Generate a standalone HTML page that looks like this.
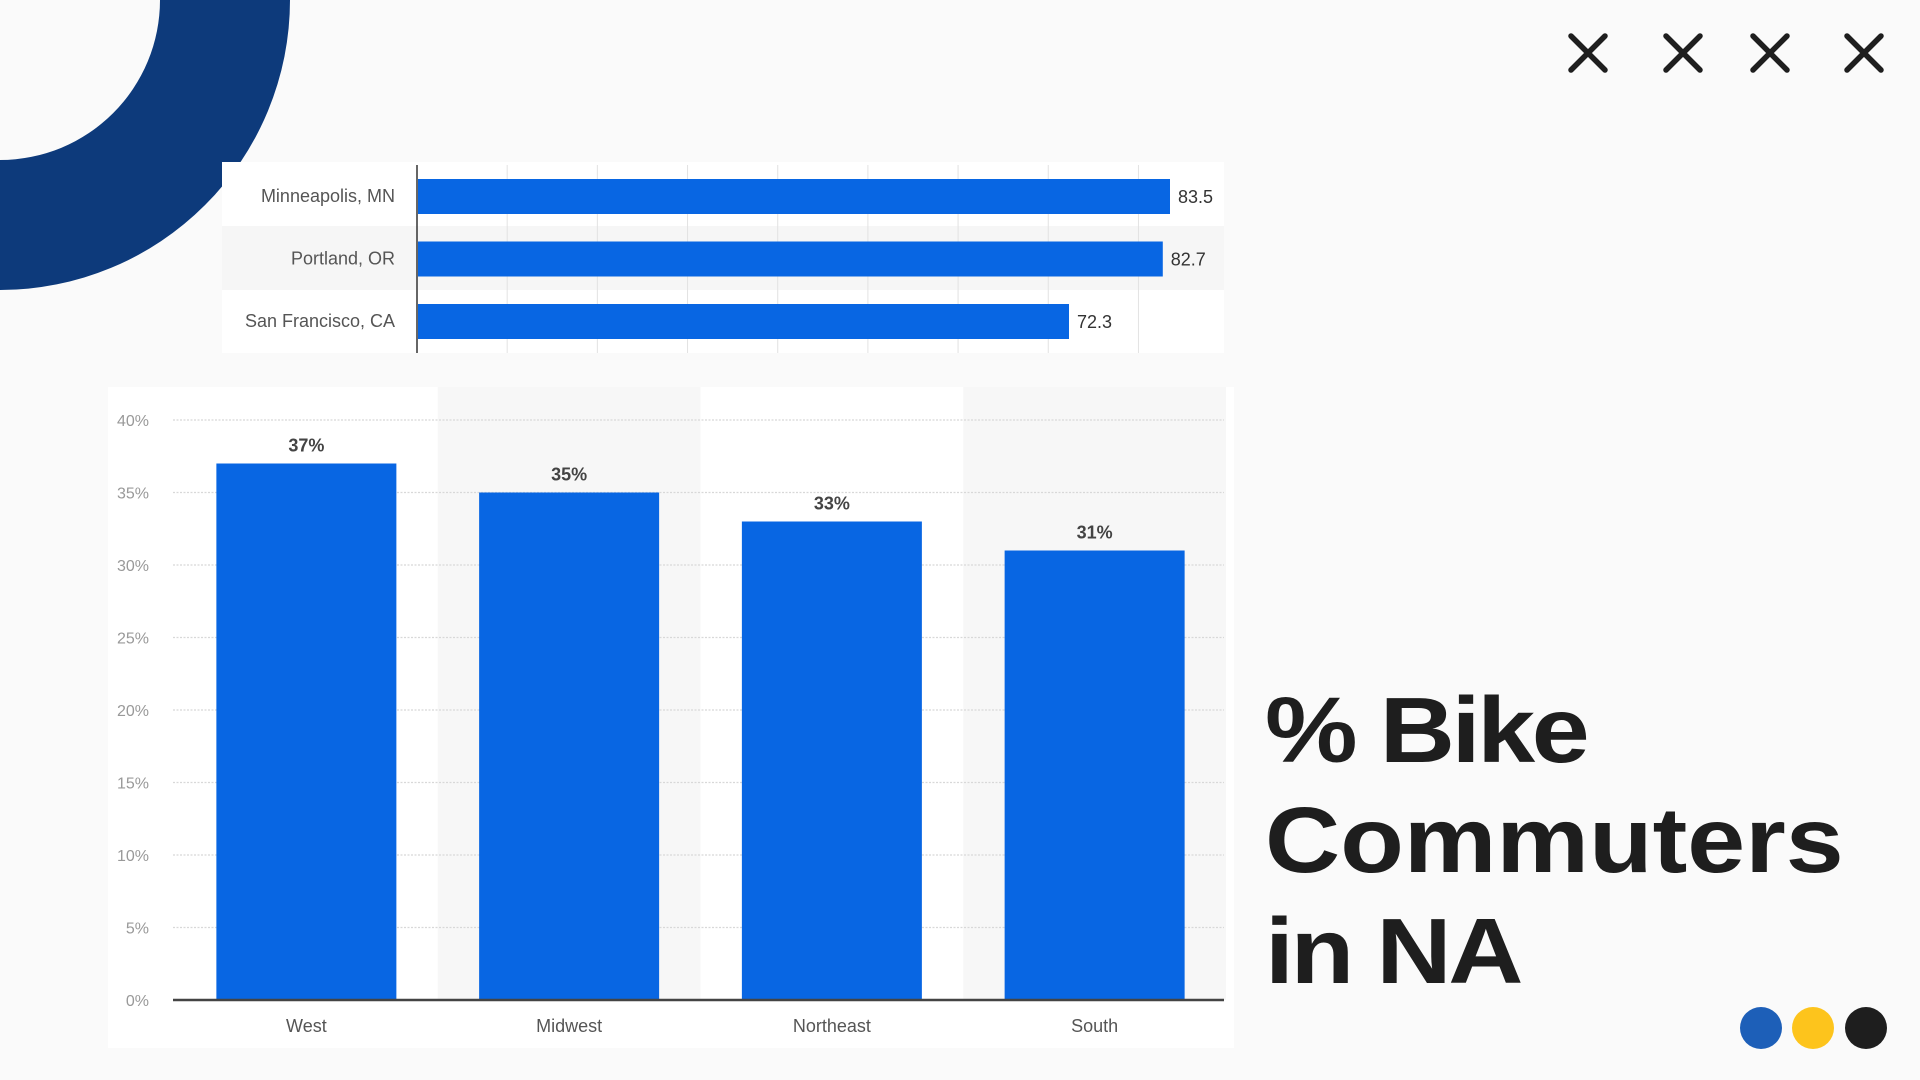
<!DOCTYPE html>
<html><head><meta charset="utf-8"><style>
html,body{margin:0;padding:0;background:#fafafa;}
body{width:1920px;height:1080px;overflow:hidden;position:relative;font-family:"Liberation Sans",sans-serif;}
svg{position:absolute;left:0;top:0;}
</style></head><body>
<svg width="1920" height="1080" viewBox="0 0 1920 1080">
  <path d="M0,0 L290,0 A290,290 0 0 1 0,290 L0,160 A160,160 0 0 0 160,0 Z" fill="#0d3a7b"/>
  <g id="xs" stroke="#1e1e1e" stroke-width="5.5" stroke-linecap="round"></g>
  <g>
    <circle cx="1761" cy="1028" r="21" fill="#1d5fb8"/>
    <circle cx="1813" cy="1028" r="21" fill="#fdc41c"/>
    <circle cx="1866" cy="1028" r="21" fill="#1e1e1e"/>
  </g>
  <g font-family="Liberation Sans, sans-serif" font-weight="bold" font-size="93" fill="#1e1e1e" transform="translate(1265,0) scale(1.12,1)" letter-spacing="-1">
    <text x="0" y="762" letter-spacing="-3">% Bike</text>
    <text x="0" y="872" letter-spacing="0">Commuters</text>
    <text x="0" y="983" letter-spacing="-3">in NA</text>
  </g>
  <g id="topChart"></g>
  <g id="botChart"></g>
</svg>
<script>
const NS='http://www.w3.org/2000/svg';
function mk(p,t,a){const e=document.createElementNS(NS,t);for(const k in a)e.setAttribute(k,a[k]);p.appendChild(e);return e;}
const xsG=document.getElementById('xs');
[1588,1683,1770,1864].forEach(cx=>{
  const g=mk(xsG,'path',{d:`M${cx-17},36 L${cx+17},70 M${cx+17},36 L${cx-17},70`});
  
  
});

// top chart data
const cities=['Minneapolis, MN','Portland, OR','San Francisco, CA'];
const cityValues=[83.5,82.7,72.3];
const cityLabels=['83.5','82.7','72.3'];
const topG=document.getElementById('topChart');
const tx0=417, tUnit=(1170-417)/83.5;
const tX=v=>tx0+v*tUnit;
mk(topG,'rect',{x:222,y:162,width:1002,height:191,fill:'#ffffff'});
mk(topG,'rect',{x:222,y:226,width:1002,height:64,fill:'#f6f6f6'});
for(let v=10;v<=80;v+=10){mk(topG,'line',{x1:tX(v),x2:tX(v),y1:165,y2:353,stroke:'#e2e2e2','stroke-width':1});}
mk(topG,'line',{x1:tx0,x2:tx0,y1:165,y2:353,stroke:'#333','stroke-width':1.5});
const rowY=[196,258.5,321];
cities.forEach((c,i)=>{
  const r=mk(topG,'rect',{x:tx0+1,y:rowY[i]-17,width:tX(cityValues[i])-tx0-1,height:35,fill:'#0866e3'});
  
  
  const l=mk(topG,'text',{x:395,y:rowY[i]+6,'text-anchor':'end','font-size':18,fill:'#555'});l.textContent=c;
  
  
  const v=mk(topG,'text',{x:tX(cityValues[i])+8,y:rowY[i]+7,'font-size':18,fill:'#333'});v.textContent=cityLabels[i];
  
  
});

// bottom chart data
const regions=['West','Midwest','Northeast','South'];
const regionValues=[37,35,33,31];
const yTicks=[0,5,10,15,20,25,30,35,40];
const botG=document.getElementById('botChart');
const px0=173,px1=1224,py0=1000,py40=420;
const yS=v=>py0-(v/40)*(py0-py40);
const bandW=(px1-px0)/4, bw=180;
const cx=i=>px0+2+bandW*(i+0.5);
mk(botG,'rect',{x:108,y:387,width:1126,height:661,fill:'#ffffff'});
[1,3].forEach(i=>mk(botG,'rect',{x:px0+bandW*i+2,y:387,width:bandW,height:613,fill:'#f7f7f7'}));
yTicks.forEach(t=>{
  if(t>0)mk(botG,'line',{x1:px0,x2:px1,y1:yS(t),y2:yS(t),stroke:'#d8d8d8','stroke-width':1.2,'stroke-dasharray':'2,1.5'});
  const l=mk(botG,'text',{x:149,y:yS(t)+6,'text-anchor':'end','font-size':16,fill:'#999'});l.textContent=t+'%';
  
  
});
regions.forEach((r,i)=>{
  const b=mk(botG,'rect',{x:cx(i)-bw/2,y:yS(regionValues[i]),width:bw,height:py0-yS(regionValues[i]),fill:'#0866e3'});
  
  
  const v=mk(botG,'text',{x:cx(i),y:yS(regionValues[i])-12,'text-anchor':'middle','font-size':18,'font-weight':'bold',fill:'#444'});v.textContent=regionValues[i]+'%';
  
  
  const l=mk(botG,'text',{x:cx(i),y:1032,'text-anchor':'middle','font-size':18,fill:'#555'});l.textContent=r;
  
  
});
mk(botG,'line',{x1:px0,x2:px1,y1:py0,y2:py0,stroke:'#444','stroke-width':2.5});
</script>
</body></html>
